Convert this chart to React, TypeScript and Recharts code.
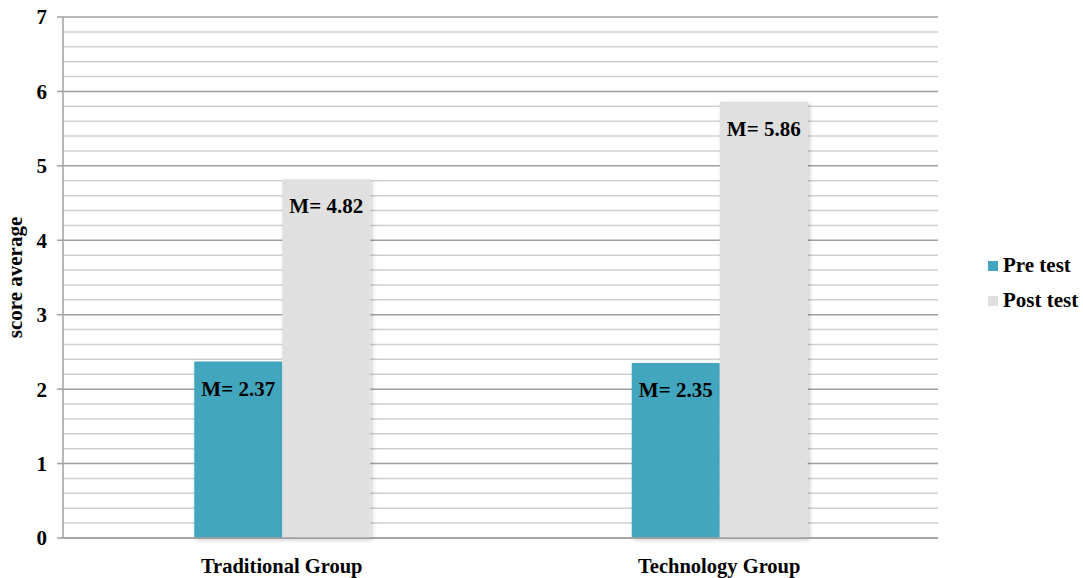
import { Bar, BarChart, CartesianGrid, LabelList, XAxis, YAxis } from "recharts";

const groups = ["Traditional Group", "Technology Group"];
const preTest = [2.37, 2.35];
const postTest = [4.82, 5.86];
const yTicks = [0, 1, 2, 3, 4, 5, 6, 7];

const data = groups.map((group, i) => ({ group, pre: preTest[i], post: postTest[i] }));

// fifth-of-a-unit guide lines between the labelled ticks
const minorLines: number[] = [];
for (let i = 0; i < 35; i++) {
  if (i % 5 !== 0) minorLines.push(i / 5);
}

const FONT = "'Liberation Serif', 'Times New Roman', serif";
const PRE_COLOR = "#42a6bf";
const POST_COLOR = "#e0e0e0";

const legendItems = [
  { label: "Pre test", color: PRE_COLOR },
  { label: "Post test", color: POST_COLOR },
];

function SideLegend() {
  return (
    <div
      style={{
        position: "absolute",
        left: 988,
        top: 248,
        fontFamily: FONT,
        fontWeight: "bold",
        fontSize: 21,
        color: "#000",
      }}
    >
      {legendItems.map((item) => (
        <div key={item.label} style={{ display: "flex", alignItems: "center", height: 35, whiteSpace: "nowrap" }}>
          <span style={{ width: 10, height: 10, background: item.color, marginRight: 5, display: "inline-block" }} />
          {item.label}
        </div>
      ))}
    </div>
  );
}

const formatMean = (v: unknown) => `M= ${Number(v).toFixed(2)}`;

export default function App() {
  return (
    <div style={{ position: "absolute", left: 0, top: 0, width: 1083, height: 578, background: "#fff", overflow: "hidden" }}>
      <BarChart
        width={1083}
        height={578}
        data={data}
        margin={{ top: 17, right: 145, bottom: 0, left: 0 }}
        barCategoryGap="30%"
        barGap={0}
      >
        <defs>
          <filter id="barShadow" x="-10%" y="-10%" width="130%" height="130%">
            <feDropShadow dx="2" dy="2" stdDeviation="2" floodColor="#000" floodOpacity="0.2" />
          </filter>
        </defs>
        <CartesianGrid vertical={false} horizontalValues={minorLines} stroke="#cfcfcf" strokeWidth={1.5} />
        <CartesianGrid vertical={false} horizontalValues={yTicks} stroke="#a0a0a0" strokeWidth={1.5} />
        <XAxis
          dataKey="group"
          height={40}
          axisLine={{ stroke: "#a0a0a0", strokeWidth: 1.5 }}
          tickLine={false}
          tickMargin={14}
          tick={{ fontFamily: FONT, fontWeight: "bold", fontSize: 20.5, fill: "#000" }}
        />
        <YAxis
          width={63}
          domain={[0, 7]}
          ticks={yTicks}
          interval={0}
          axisLine={{ stroke: "#a0a0a0", strokeWidth: 1.5 }}
          tickLine={{ stroke: "#a0a0a0", strokeWidth: 1.5 }}
          tickSize={6}
          tickMargin={10}
          tick={{ fontFamily: FONT, fontWeight: "bold", fontSize: 21, fill: "#000" }}
          label={{
            value: "score average",
            angle: -90,
            position: "insideLeft",
            offset: 15,
            style: { fontFamily: FONT, fontWeight: "bold", fontSize: 21, fill: "#000", textAnchor: "middle" },
          }}
        />
        <Bar dataKey="pre" name="Pre test" fill={PRE_COLOR} filter="url(#barShadow)" isAnimationActive={false}>
          <LabelList
            dataKey="pre"
            position="insideTop"
            offset={19}
            formatter={formatMean}
            style={{ fontFamily: FONT, fontWeight: "bold", fontSize: 21, fill: "#000" }}
          />
        </Bar>
        <Bar dataKey="post" name="Post test" fill={POST_COLOR} filter="url(#barShadow)" isAnimationActive={false}>
          <LabelList
            dataKey="post"
            position="insideTop"
            offset={19}
            formatter={formatMean}
            style={{ fontFamily: FONT, fontWeight: "bold", fontSize: 21, fill: "#000" }}
          />
        </Bar>
      </BarChart>
      <SideLegend />
    </div>
  );
}
